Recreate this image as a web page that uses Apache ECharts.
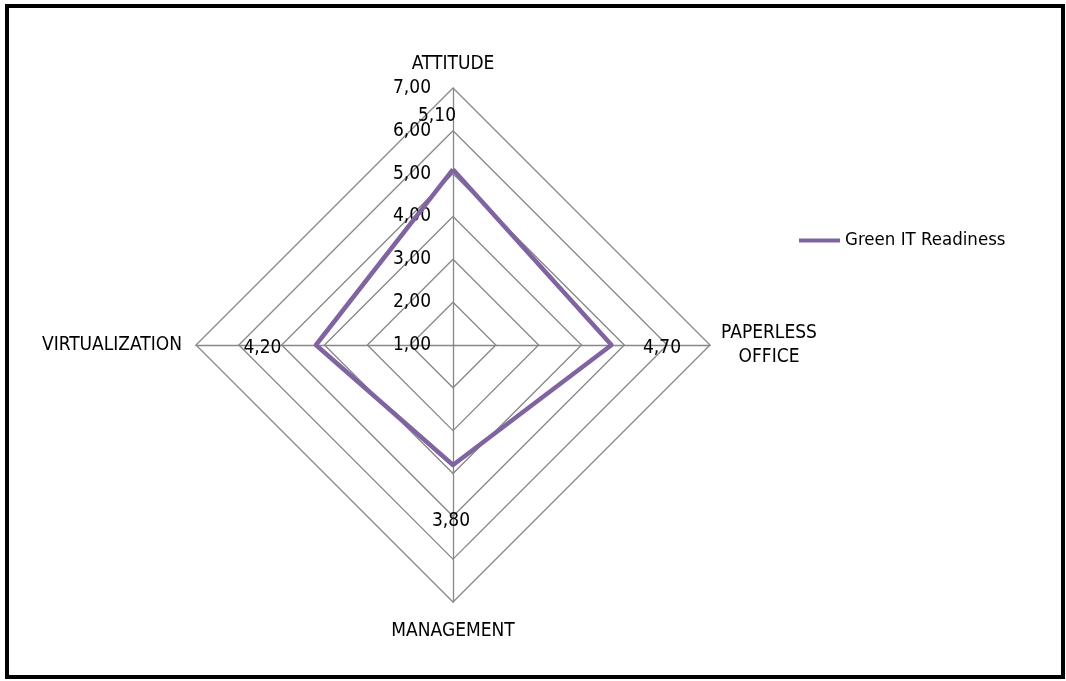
<!DOCTYPE html>
<html>
<head>
<meta charset="utf-8">
<script src="https://cdn.jsdelivr.net/npm/echarts@6/dist/echarts.min.js"></script>
<style>
html,body{margin:0;padding:0;background:#fff;}
#c{width:1066px;height:681px;}
</style>
</head>
<body>
<div id="c"></div>
<script>
// clockwise from top
var indicators = ['ATTITUDE', 'PAPERLESS OFFICE', 'MANAGEMENT', 'VIRTUALIZATION'];
var seriesName = 'Green IT Readiness';
var values = [5.10, 4.70, 3.80, 4.20];
var axisMin = 1, axisMax = 7, axisSteps = 6;

var FONT = '"Liberation Sans Narrow", "DejaVu Sans Condensed", "Liberation Sans", sans-serif';
var PURPLE = '#8064A2';
var GRID = '#878787';
function fmt(v){ return v.toFixed(2).replace('.', ','); }

// ECharts radar runs counter-clockwise; reorder so the reference's clockwise order appears
var order = [0, 3, 2, 1];
var radarIndicators = order.map(function(i){ return indicators[i]; });
var radarValues = order.map(function(i){ return values[i]; });

var chart = echarts.init(document.getElementById('c'), null, {renderer:'canvas'});

var indicatorList = radarIndicators.map(function(n, i){
  var o = {name: n, min: axisMin, max: axisMax};
  if (i === 0) o.axisLabel = {show: true};
  return o;
});

// label placement per original (clockwise) index
var labelPos = ['top', 'right', 'bottom', 'left'];
var labelDist = [43, 31, 46, 34];
var labelOff = [[-16, 0], [0, 3], [-2, 0], [0, 3]];

var series = [{
  type: 'radar',
  name: seriesName,
  symbol: 'none',
  lineStyle: {color: PURPLE, width: 4.5},
  itemStyle: {color: PURPLE},
  data: [{value: radarValues, name: seriesName}],
  z: 3
}];
values.forEach(function(v, k){
  series.push({
    type: 'radar',
    name: 'lbl' + k,
    symbol: 'circle',
    symbolSize: 1,
    silent: true,
    itemStyle: {color: 'rgba(0,0,0,0)'},
    lineStyle: {opacity: 0, width: 0},
    label: {
      show: true,
      position: labelPos[k],
      distance: labelDist[k],
      offset: labelOff[k],
      color: '#000',
      fontFamily: FONT,
      fontSize: 19,
      formatter: function(p){ return p.value === values[k] ? fmt(p.value) : ''; }
    },
    data: [{value: radarValues}],
    z: 4
  });
});

var option = {
  backgroundColor: '#fff',
  animation: false,
  textStyle: {fontFamily: FONT},
  graphic: [{
    type: 'rect',
    shape: {x: 7, y: 6, width: 1056, height: 671},
    style: {fill: 'none', stroke: '#000', lineWidth: 4},
    silent: true
  }],
  legend: {
    data: [seriesName],
    left: 794,
    top: 226,
    orient: 'vertical',
    icon: 'rect',
    itemWidth: 41,
    itemHeight: 4,
    itemGap: 8,
    textStyle: {color: '#000', fontFamily: FONT, fontSize: 18.5}
  },
  radar: {
    center: [453, 345],
    radius: 257,
    shape: 'polygon',
    startAngle: 90,
    splitNumber: axisSteps,
    indicator: indicatorList,
    axisName: {
      color: '#000',
      fontFamily: FONT,
      fontSize: 19,
      formatter: function(n){
        if (n.indexOf(' ') > 0) {
          return n.split(' ').map(function(w){ return '{c|' + w + '}'; }).join('\n');
        }
        if (n === indicators[2]) return '{b|' + n + '}';
        return n;
      },
      rich: {
        c: {width: 90, align: 'center', fontFamily: FONT, fontSize: 19, color: '#000', lineHeight: 24},
        b: {fontFamily: FONT, fontSize: 19, color: '#000', padding: [6, 0, 0, 0]}
      }
    },
    nameGap: 14,
    axisLine: {show: true, lineStyle: {color: GRID, width: 1.3}},
    splitLine: {show: true, lineStyle: {color: GRID, width: 1.3}},
    splitArea: {show: false},
    axisTick: {show: false},
    axisLabel: {
      show: false,
      color: '#000',
      fontFamily: FONT,
      fontSize: 19,
      margin: 22,
      formatter: function(v){ return fmt(v); }
    }
  },
  series: series
};
chart.setOption(option);
</script>
</body>
</html>
